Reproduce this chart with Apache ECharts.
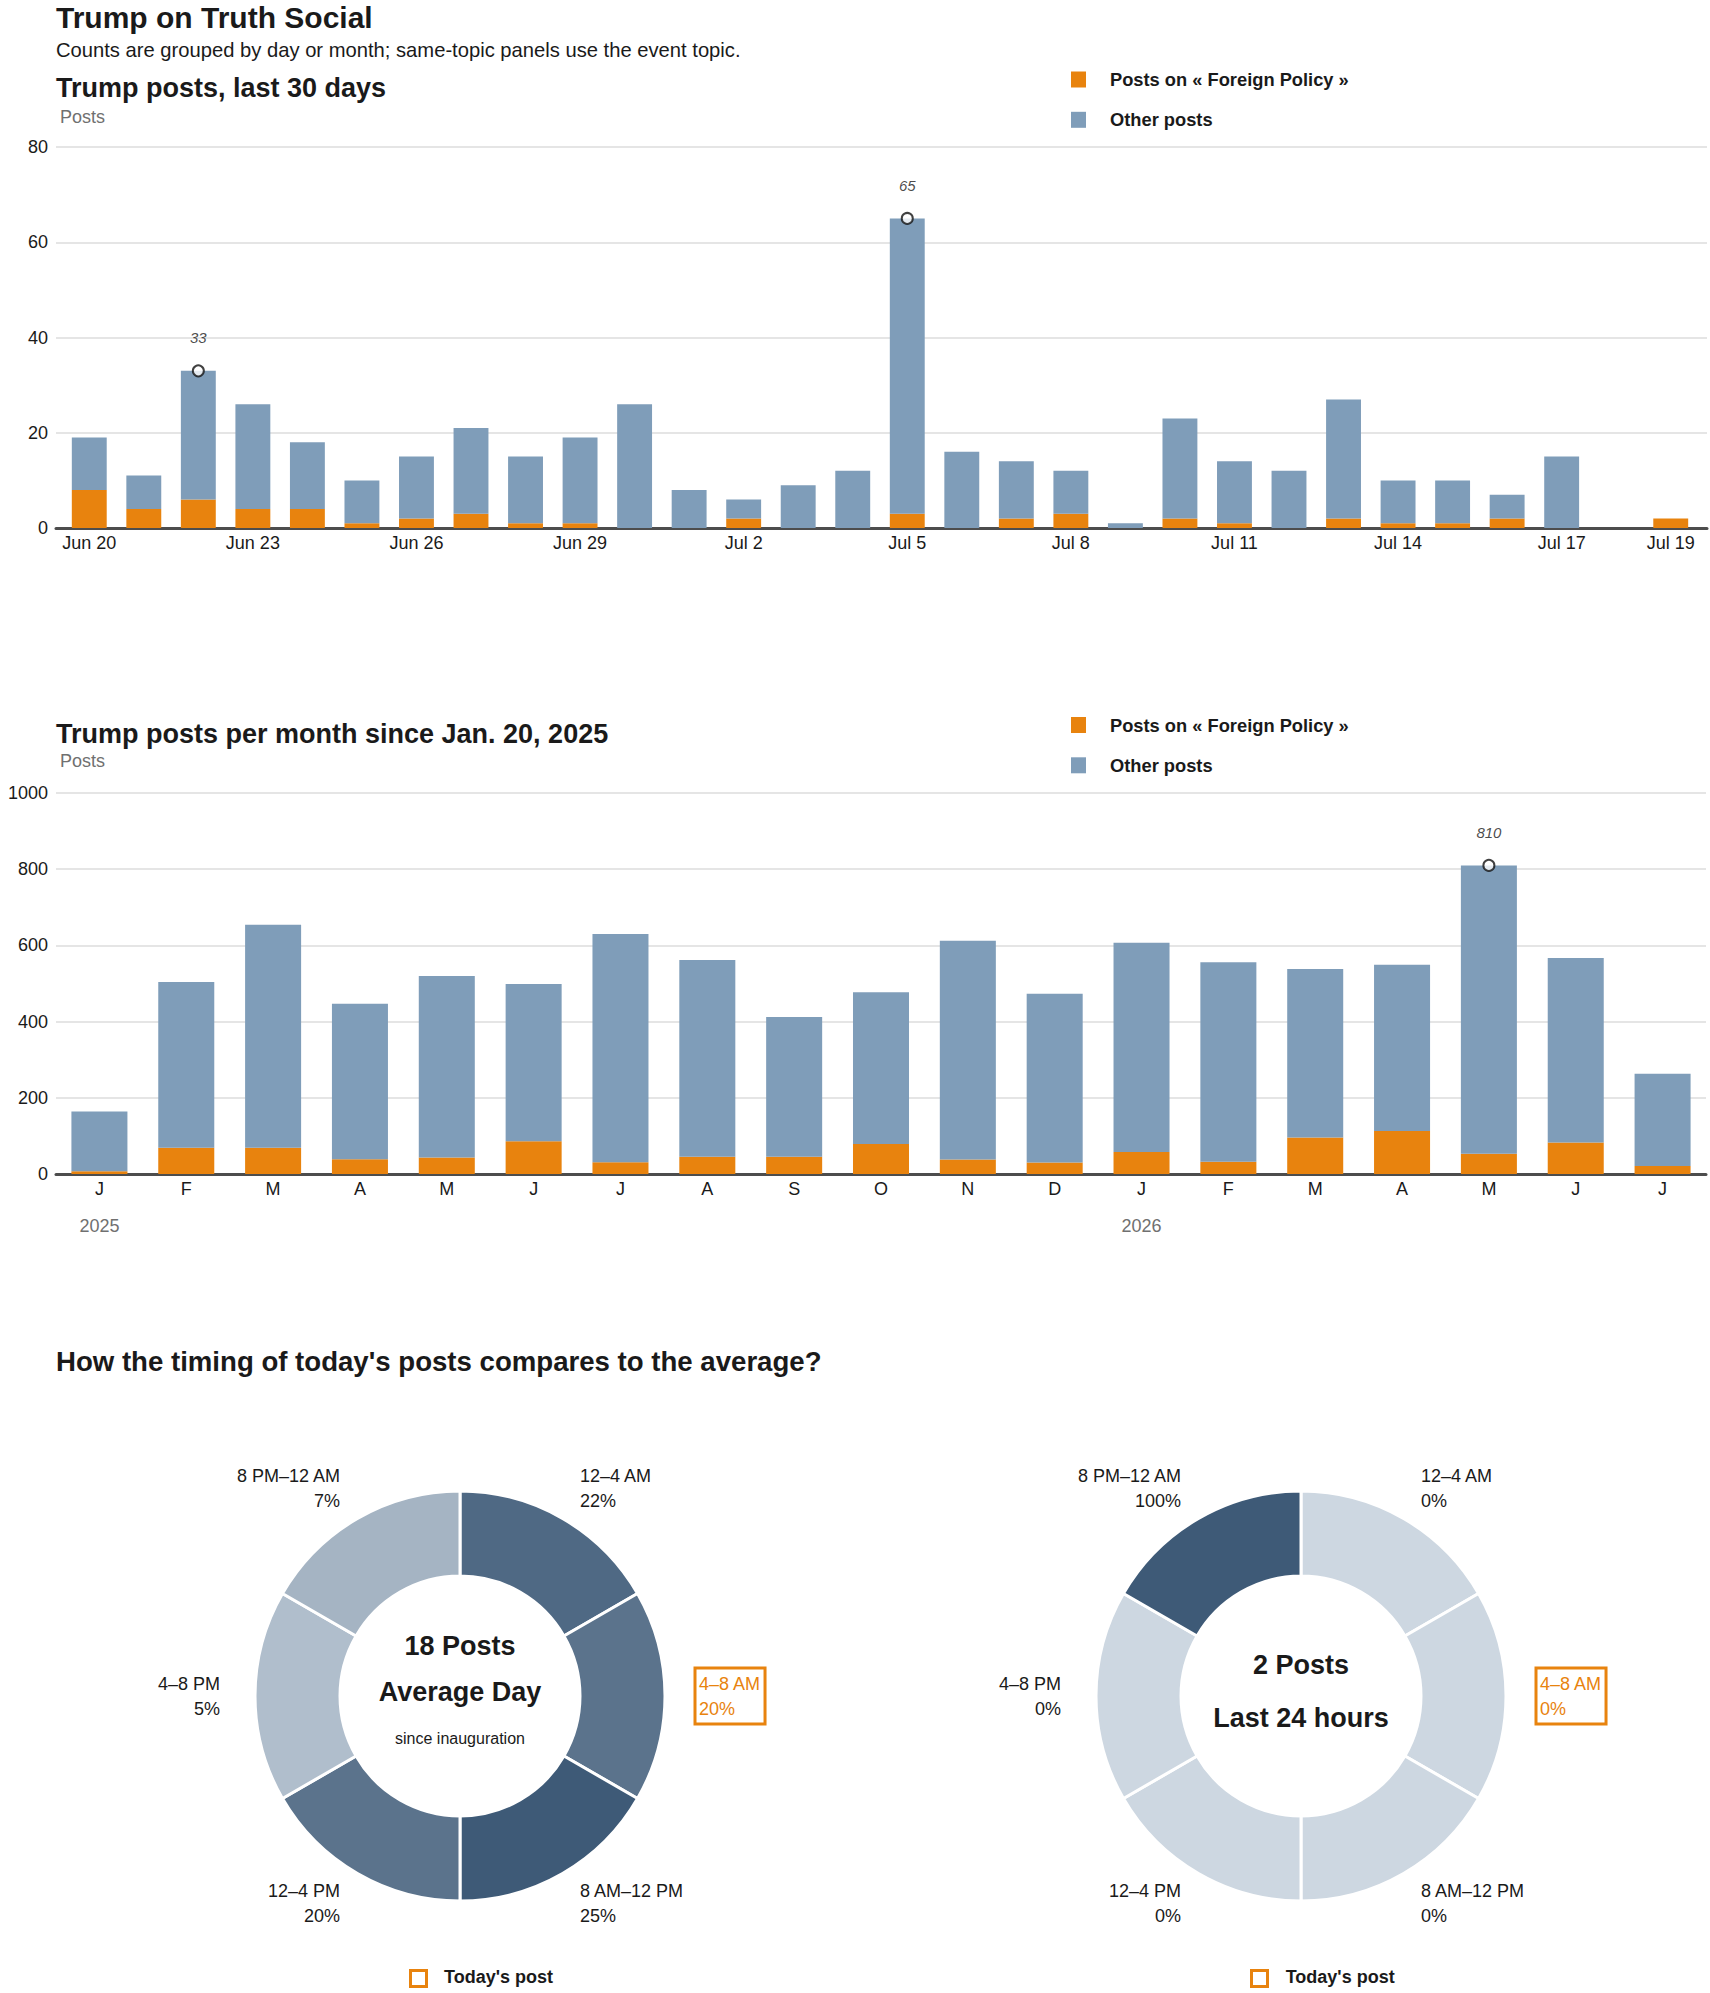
<!DOCTYPE html>
<html>
<head>
<meta charset="utf-8">
<script src="https://cdn.jsdelivr.net/npm/echarts@6/dist/echarts.min.js"></script>
<style>
html,body{margin:0;padding:0;background:#fff;}
#c{width:1710px;height:1993px;}
</style>
</head>
<body>
<div id="c"></div>
<script>
// ---------- DATA ----------
const dayCategories = ['Jun 20','Jun 21','Jun 22','Jun 23','Jun 24','Jun 25','Jun 26','Jun 27','Jun 28','Jun 29','Jun 30',
  'Jul 1','Jul 2','Jul 3','Jul 4','Jul 5','Jul 6','Jul 7','Jul 8','Jul 9','Jul 10','Jul 11','Jul 12','Jul 13','Jul 14',
  'Jul 15','Jul 16','Jul 17','Jul 18','Jul 19'];
const dayTickLabels = ['Jun 20','Jun 23','Jun 26','Jun 29','Jul 2','Jul 5','Jul 8','Jul 11','Jul 14','Jul 17','Jul 19'];
const dayForeign = [8,4,6,4,4,1,2,3,1,1,0,0,2,0,0,3,0,2,3,0,2,1,0,2,1,1,2,0,0,2];
const dayOther   = [11,7,27,22,14,9,13,18,14,18,26,8,4,9,12,62,16,12,9,1,21,13,12,25,9,9,5,15,0,0];
const dayPeaks = [['Jun 22', 33], ['Jul 5', 65]];
const dayTicksY = [0, 80, 20]; // min, max, step

const monthCategories = ['Jan 2025','Feb 2025','Mar 2025','Apr 2025','May 2025','Jun 2025','Jul 2025','Aug 2025',
  'Sep 2025','Oct 2025','Nov 2025','Dec 2025','Jan 2026','Feb 2026','Mar 2026','Apr 2026','May 2026','Jun 2026','Jul 2026'];
const monthTickLabels = ['J','F','M','A','M','J','J','A','S','O','N','D','J','F','M','A','M','J','J'];
const yearTickLabels = ['2025','','','','','','','','','','','','2026','','','','','',''];
const monthForeign = [7,69,69,39,43,86,31,45,45,79,38,30,58,32,96,113,53,83,21];
const monthOther   = [157,435,585,408,477,413,599,517,367,398,574,443,549,524,442,436,757,484,242];
const monthPeaks = [['May 2026', 810]];
const monthTicksY = [0, 1000, 200];

const slots = ['12–4 AM','4–8 AM','8 AM–12 PM','12–4 PM','4–8 PM','8 PM–12 AM'];
const slotWeights = [1,1,1,1,1,1];
const avgShare = [22,20,25,20,5,7];
const last24Share = [0,0,0,0,0,100];
const todaySlot = '4–8 AM';
const avgPostsPerDay = 18;
const last24Posts = 2;

const seriesNames = ['Posts on « Foreign Policy »', 'Other posts'];

// ---------- STYLE ----------
const F = '"Liberation Sans", Arial, sans-serif';
const FN = '"Liberation Sans Narrow", "Liberation Sans", Arial, sans-serif';
const ORANGE = '#e8830e', BLUE = '#7f9db9', AXIS = '#4d4d4d', GRIDC = '#dcdcdc', TXT = '#1a1a1a', GRAY = '#707070';
const LIGHT = [205,215,225], DARK = [62,90,119];

function shade(t){
  const c = LIGHT.map((l,i)=>Math.round(l + (DARK[i]-l)*t));
  return 'rgb(' + c.join(',') + ')';
}

function txt(x, y, text, font, fill, align){
  return {type:'text', x:x, y:y, silent:true,
    style:{text:text, font:font, fill:fill||TXT, textAlign:align||'left', align:align||'left',
           textVerticalAlign:'middle', verticalAlign:'middle'}};
}

function legendCfg(top){
  return {data:seriesNames, orient:'vertical', left:1071, top:top, itemWidth:15, itemHeight:16, itemGap:22.3,
    icon:'rect', padding:0, selectedMode:false,
    textStyle:{fontSize:18.3, fontWeight:'bold', color:TXT, fontFamily:F, padding:[0,0,0,19]}};
}

function peakSeries(xi, yi, data){
  return {type:'scatter', xAxisIndex:xi, yAxisIndex:yi, data:data, symbol:'circle', symbolSize:11, z:10, silent:true,
    itemStyle:{color:'#fff', borderColor:'#111', borderWidth:2},
    label:{show:true, position:'top', distance:19, formatter:p=>String(p.value[1]),
      fontStyle:'italic', fontSize:15, color:TXT, fontFamily:FN}};
}

function pieSeries(cx, shares){
  const max = Math.max.apply(null, shares);
  return {type:'pie', center:[cx,1696], radius:[120,205], startAngle:90, clockwise:true,
    avoidLabelOverlap:false, silent:true, emphasis:{disabled:true},
    itemStyle:{borderColor:'#fff', borderWidth:3},
    label:{show:true, position:'outside', distanceToLabelLine:0, fontSize:18, lineHeight:25, color:TXT, fontFamily:F,
      formatter:p=>p.name + '\n' + p.data.share + '%'},
    labelLine:{show:false, length:35, length2:0},
    labelLayout:p=> slots[p.dataIndex]===todaySlot ? {dx:-5} : {},
    data:slots.map((s,i)=>{
      const d = {name:s, value:slotWeights[i], share:shares[i], itemStyle:{color:shade(shares[i]/max)}};
      if (s===todaySlot) d.label = {color:ORANGE, borderColor:ORANGE, borderWidth:3, padding:[3,4,3,4]};
      return d;
    })};
}

const axisLabelBase = {fontSize:18, color:TXT, fontFamily:F};

const option = {
  animation:false,
  backgroundColor:'#fff',
  textStyle:{fontFamily:F},
  grid:[
    {left:56, right:3, top:147, height:381},
    {left:62, right:12, top:147, height:381},
    {left:56, right:4, top:793, height:381}
  ],
  xAxis:[
    {gridIndex:0, type:'value', min:0, max:1, axisLine:{show:true, lineStyle:{color:AXIS, width:3}},
      axisTick:{show:false}, axisLabel:{show:false}, splitLine:{show:false}},
    {gridIndex:1, type:'category', data:dayCategories, axisLine:{show:false}, axisTick:{show:false},
      axisLabel:Object.assign({interval:0, margin:4, lineHeight:22,
        formatter:v=> dayTickLabels.indexOf(v) >= 0 ? v : ''}, axisLabelBase)},
    {gridIndex:2, type:'category', data:monthCategories, axisLine:{show:true, lineStyle:{color:AXIS, width:3}},
      axisTick:{show:false},
      axisLabel:Object.assign({interval:0, margin:4, lineHeight:22,
        formatter:(v,i)=> yearTickLabels[i] ? monthTickLabels[i] + '\n{yr|' + yearTickLabels[i] + '}' : monthTickLabels[i],
        rich:{yr:{fontSize:18, color:GRAY, lineHeight:52, fontFamily:F}}}, axisLabelBase)}
  ],
  yAxis:[
    {gridIndex:0, type:'value', min:dayTicksY[0], max:dayTicksY[1], interval:dayTicksY[2],
      axisLine:{show:false}, axisTick:{show:false},
      axisLabel:Object.assign({margin:8, formatter:v=>String(v)}, axisLabelBase),
      splitLine:{lineStyle:{color:GRIDC, width:1.5}}},
    {gridIndex:1, type:'value', min:dayTicksY[0], max:dayTicksY[1], interval:dayTicksY[2], show:false},
    {gridIndex:2, type:'value', min:monthTicksY[0], max:monthTicksY[1], interval:monthTicksY[2],
      axisLine:{show:false}, axisTick:{show:false},
      axisLabel:Object.assign({margin:8, formatter:v=>String(v)}, axisLabelBase),
      splitLine:{lineStyle:{color:GRIDC, width:1.5}}}
  ],
  legend:[legendCfg(70.5), legendCfg(716)],
  series:[
    {name:seriesNames[0], type:'bar', xAxisIndex:1, yAxisIndex:1, stack:'day', data:dayForeign,
      barWidth:'64%', itemStyle:{color:ORANGE}, silent:true},
    {name:seriesNames[1], type:'bar', xAxisIndex:1, yAxisIndex:1, stack:'day', data:dayOther,
      barWidth:'64%', itemStyle:{color:BLUE}, silent:true},
    peakSeries(1, 1, dayPeaks),
    {name:seriesNames[0], type:'bar', xAxisIndex:2, yAxisIndex:2, stack:'month', data:monthForeign,
      barWidth:'64.5%', itemStyle:{color:ORANGE}, silent:true},
    {name:seriesNames[1], type:'bar', xAxisIndex:2, yAxisIndex:2, stack:'month', data:monthOther,
      barWidth:'64.5%', itemStyle:{color:BLUE}, silent:true},
    peakSeries(2, 2, monthPeaks),
    pieSeries(460, avgShare),
    pieSeries(1301, last24Share)
  ],
  graphic:[
    txt(56, 17, 'Trump on Truth Social', 'bold 30px ' + F),
    txt(56, 50, 'Counts are grouped by day or month; same-topic panels use the event topic.', '20.2px ' + F),
    txt(56, 87.5, 'Trump posts, last 30 days', 'bold 27px ' + F),
    txt(60, 116.5, 'Posts', '18px ' + F, GRAY),
    txt(56, 733.5, 'Trump posts per month since Jan. 20, 2025', 'bold 27px ' + F),
    txt(60, 761, 'Posts', '18px ' + F, GRAY),
    txt(56, 1361, "How the timing of today's posts compares to the average?", 'bold 27.6px ' + F),
    txt(460, 1646, avgPostsPerDay + ' Posts', 'bold 27px ' + F, TXT, 'center'),
    txt(460, 1692, 'Average Day', 'bold 27px ' + F, TXT, 'center'),
    txt(460, 1738, 'since inauguration', '16px ' + F, TXT, 'center'),
    txt(1301, 1665, last24Posts + ' Posts', 'bold 27px ' + F, TXT, 'center'),
    txt(1301, 1718, 'Last 24 hours', 'bold 27px ' + F, TXT, 'center'),
    {type:'rect', x:410.5, y:1970.5, shape:{width:16, height:16}, style:{fill:'#fff', stroke:ORANGE, lineWidth:3}, silent:true},
    txt(444, 1977, "Today's post", 'bold 18px ' + F),
    {type:'rect', x:1251.5, y:1970.5, shape:{width:16, height:16}, style:{fill:'#fff', stroke:ORANGE, lineWidth:3}, silent:true},
    txt(1285.7, 1977, "Today's post", 'bold 18px ' + F)
  ]
};

const chart = echarts.init(document.getElementById('c'), null, {renderer:'svg', width:1710, height:1993});
chart.setOption(option);
</script>
</body>
</html>
